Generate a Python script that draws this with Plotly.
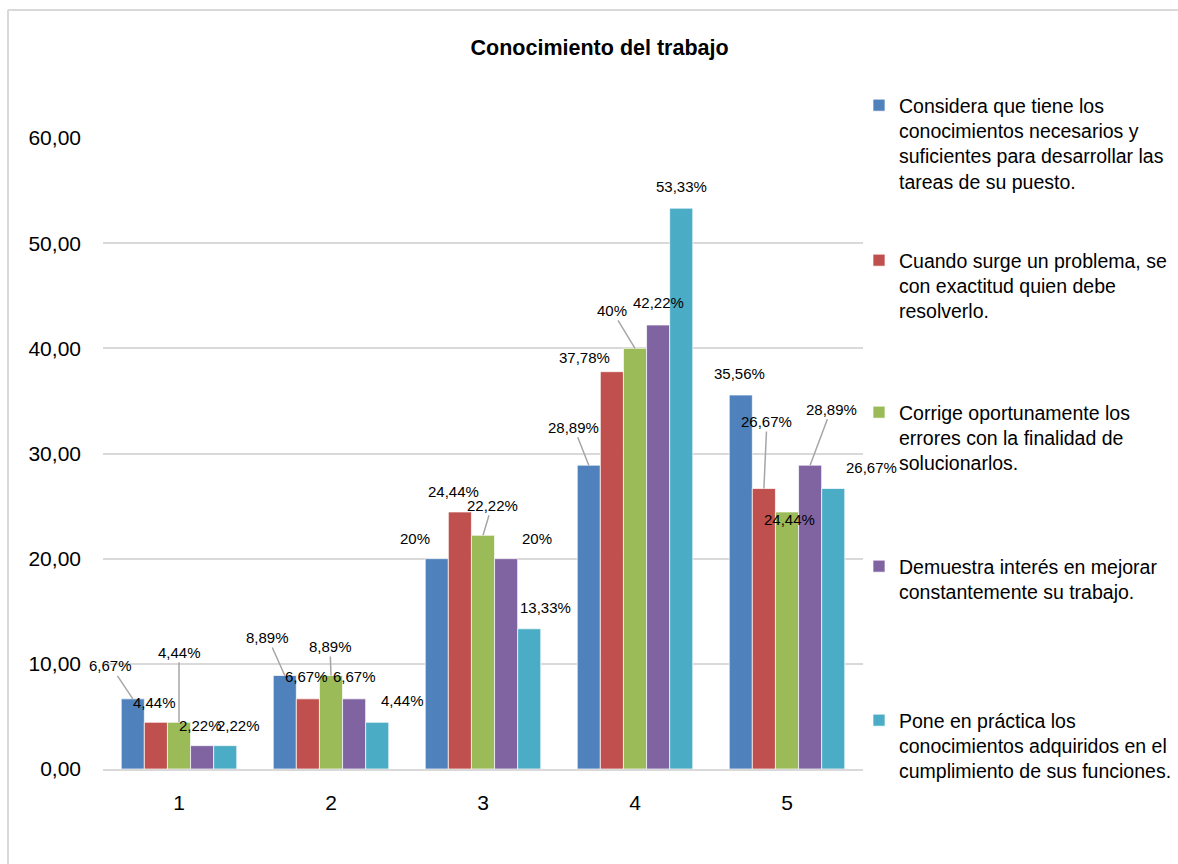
import plotly.graph_objects as go

# ---------------- data ----------------
categories = [1, 2, 3, 4, 5]
series_names = [
    "Considera que tiene los<br>conocimientos necesarios y<br>suficientes para desarrollar las<br>tareas de su puesto.",
    "Cuando surge un problema, se<br>con exactitud quien debe<br>resolverlo.",
    "Corrige oportunamente los<br>errores con la finalidad de<br>solucionarlos.",
    "Demuestra interés en mejorar<br>constantemente su trabajo.",
    "Pone en práctica los<br>conocimientos adquiridos en el<br>cumplimiento de sus funciones.",
]
considera = [6.67, 8.89, 20, 28.89, 35.56]
cuando = [4.44, 6.67, 24.44, 37.78, 26.67]
corrige = [4.44, 8.89, 22.22, 40, 24.44]
demuestra = [2.22, 6.67, 20, 42.22, 28.89]
pone = [2.22, 4.44, 13.33, 53.33, 26.67]
series_values = [considera, cuando, corrige, demuestra, pone]

# ---------------- styles ----------------
colors = ["#4F81BD", "#C0504D", "#9BBB59", "#8064A2", "#4BACC6"]
FONT = "Liberation Sans, Arial, sans-serif"
BARGAP = 0.24
# label offsets in pixels (dx, dy) from bar top centre, and leader line flag
label_offsets = [
    [(-22, -33, True), (-17, -38, True), (-22, -20, False), (-15, -38, True), (-1, -22, False)],
    [(-1, -20, False), (-1, -22, False), (-6, -20, False), (-27, -14, False), (3, -67, True)],
    [(0, -70, True), (-1, -29, True), (9, -30, True), (-23, -38, True), (2, 8, False)],
    [(-2, -20, False), (0, -22, False), (31, -20, False), (0, -22, False), (21, -56, True)],
    [(13, -20, False), (25, -22, False), (16, -21, False), (0, -22, False), (38, -21, False)],
]
legend_tops_px = [86, 241, 393, 547, 701]
LEGEND_LEFT_PX = 859
W, H = 1178, 864


def fmt(v):
    s = f"{v:.2f}".replace(".", ",")
    if s.endswith(",00"):
        s = s[:-3]
    return s + "%"


fig = go.Figure()
n = len(series_values)
w = (1 - BARGAP) / n
annotations = []
for i, (name, vals) in enumerate(zip(series_names, series_values)):
    lg = "legend" if i == 0 else f"legend{i + 1}"
    fig.add_trace(go.Bar(
        x=categories, y=vals, name=name, legend=lg,
        marker=dict(color=colors[i], line=dict(color="rgba(255,255,255,0.7)", width=1)),
        hoverinfo="skip",
    ))
    for j, (c, v) in enumerate(zip(categories, vals)):
        dx, dy, leader = label_offsets[i][j]
        xc = c + (i - (n - 1) / 2) * w
        if leader:
            annotations.append(dict(
                x=xc, y=v, xref="x", yref="y", text=fmt(v), showarrow=True,
                ax=dx, ay=dy, arrowhead=0, arrowwidth=1.5, arrowcolor="#a6a6a6",
                standoff=0, startstandoff=0,
                font=dict(family=FONT, size=15, color="#000000"),
            ))
        else:
            annotations.append(dict(
                x=xc, y=v, xref="x", yref="y", text=fmt(v), showarrow=False,
                xshift=dx, yshift=-dy,
                font=dict(family=FONT, size=15, color="#000000"),
            ))

legend_common = dict(
    xref="container", yref="container",
    xanchor="left", yanchor="top", x=LEGEND_LEFT_PX / W, valign="top",
    font=dict(family=FONT, size=19.5, color="#000000"),
    bgcolor="rgba(0,0,0,0)", tracegroupgap=0,
)
layout_legends = {}
for i in range(n):
    key = "legend" if i == 0 else f"legend{i + 1}"
    layout_legends[key] = dict(legend_common, y=1 - legend_tops_px[i] / H)

frame = dict(color="#d9d9d9", width=2)
fig.update_layout(
    width=W, height=H,
    margin=dict(l=103, r=315, t=138, b=95, autoexpand=False),
    paper_bgcolor="white", plot_bgcolor="white",
    separators=", ",
    barmode="group", bargap=BARGAP, bargroupgap=0,
    title=dict(text="<b>Conocimiento del trabajo</b>", x=0.509, xref="container",
               y=1 - 47 / H, yref="container", xanchor="center", yanchor="middle",
               font=dict(family=FONT, size=21.5, color="#000000")),
    font=dict(family=FONT, color="#000000"),
    showlegend=True,
    annotations=annotations,
    shapes=[
        dict(type="line", xref="paper", yref="paper", x0=-0.125, x1=-0.125,
             y0=-0.25, y1=1.203, line=frame, layer="below"),
        dict(type="line", xref="paper", yref="paper", x0=-0.125, x1=1.6,
             y0=1.203, y1=1.203, line=frame, layer="below"),
    ],
    **layout_legends,
)
fig.update_xaxes(
    range=[0.5, 5.5], tickmode="array", tickvals=categories,
    ticktext=[str(c) for c in categories],
    showgrid=False, zeroline=False, showline=True, linecolor="#d9d9d9", linewidth=2,
    ticks="", ticklabelstandoff=14,
    tickfont=dict(family=FONT, size=21, color="#000000"),
)
fig.update_yaxes(
    range=[0, 60], dtick=10, tickformat=".2f",
    showgrid=True, gridcolor="#d9d9d9", gridwidth=1.5, zeroline=False, showline=False,
    ticks="", ticklabelstandoff=21,
    tickfont=dict(family=FONT, size=21, color="#000000"),
)

fig.write_html("out.html")
